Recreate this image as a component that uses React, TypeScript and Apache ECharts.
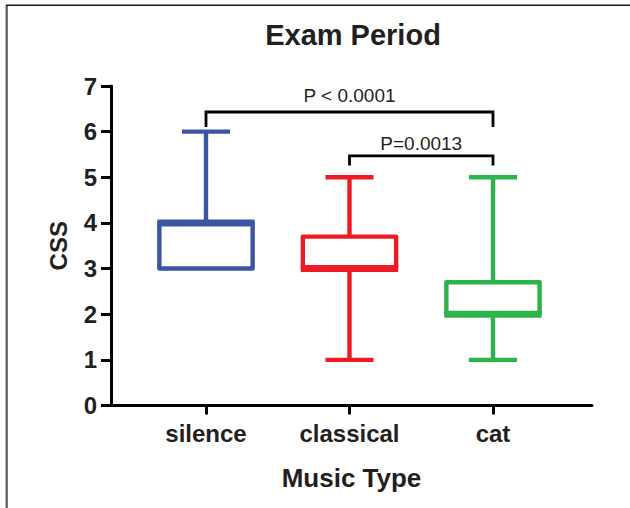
import React, { useEffect, useRef } from "react";
import * as echarts from "echarts";

const CATEGORIES = ["silence", "classical", "cat"];
// [min, q1, median, q3, max]
const SILENCE = [3, 3, 4, 4, 6];
const CLASSICAL = [1, 3, 3, 3.7, 5];
const CAT = [1, 2, 2, 2.7, 5];
const BOX_VALUES = [SILENCE, CLASSICAL, CAT];
const BOX_COLORS = ["#3a55a4", "#ed1c24", "#2cb34a"];
const Y_TICKS = [0, 1, 2, 3, 4, 5, 6, 7];
// significance brackets: [fromCategory, toCategory, bracketValue, dropToValue]
const BRACKET_FROM = [1, 2];
const BRACKET_TO = [3, 3];
const BRACKET_LEVEL = [6.43, 5.47];
const BRACKET_DROP = [6.1, 5.26];
const BRACKET_LABELS = ["P < 0.0001", "P=0.0013"];
const BRACKET_LABEL_GAP = [7, 3];

const FONT = "'Liberation Sans', Arial, Helvetica, sans-serif";
const INK = "#231f20";

export default function App() {
  const ref = useRef<HTMLDivElement>(null);
  useEffect(() => {
    if (!ref.current) return;
    const chart = echarts.init(ref.current, undefined, { renderer: "svg" });
    const boxData = BOX_VALUES.map((v, i) => [i + 1, ...v]);
    const bracketData = BRACKET_FROM.map((f, i) => [f, BRACKET_TO[i], BRACKET_LEVEL[i], BRACKET_DROP[i]]);
    chart.setOption({
      animation: false,
      backgroundColor: "#ffffff",
      title: {
        text: "Exam Period",
        left: 348,
        textAlign: "center",
        top: 15,
        textStyle: { fontFamily: FONT, fontSize: 29, fontWeight: "bold", color: INK },
      },
      graphic: [
        { type: "line", shape: { x1: 6.7, y1: 5, x2: 6.7, y2: 508 }, style: { stroke: "#555555", lineWidth: 2.2 } },
        { type: "line", shape: { x1: 6, y1: 5.3, x2: 630, y2: 5.3 }, style: { stroke: "#1a1a1a", lineWidth: 1.6 } },
      ],
      grid: { left: 111, right: 38, top: 86, bottom: 102.5, containLabel: false },
      xAxis: {
        type: "value",
        min: 0.338,
        max: 3.69,
        name: "Music Type",
        nameLocation: "middle",
        nameGap: 59,
        nameTextStyle: { fontFamily: FONT, fontSize: 26, fontWeight: "bold", color: INK },
        splitLine: { show: false },
        axisLine: { show: true, lineStyle: { color: "#000", width: 3 } },
        axisTick: { show: true, customValues: [1, 2, 3], length: 9, lineStyle: { color: "#000", width: 3 } },
        axisLabel: {
          customValues: [1, 2, 3],
          margin: 16,
          fontFamily: FONT,
          fontSize: 24,
          fontWeight: "bold",
          color: INK,
          formatter: (v: number) => CATEGORIES[Math.round(v) - 1] ?? "",
        },
      },
      yAxis: {
        type: "value",
        min: 0,
        max: 7,
        interval: 1,
        name: "CSS",
        nameLocation: "middle",
        nameGap: 41,
        nameRotate: 90,
        nameTextStyle: { fontFamily: FONT, fontSize: 24, fontWeight: "bold", color: INK },
        splitLine: { show: false },
        axisLine: { show: true, lineStyle: { color: "#000", width: 3 } },
        axisTick: { show: true, length: 10, lineStyle: { color: "#000", width: 3 } },
        axisLabel: {
          margin: 14,
          fontFamily: FONT,
          fontSize: 24,
          fontWeight: "bold",
          color: INK,
          formatter: (v: number) => (Y_TICKS.includes(v) ? String(v) : ""),
        },
      },
      series: [
        {
          type: "custom",
          data: boxData,
          renderItem: (params: any, api: any) => {
            const x = api.value(0);
            const lo = api.coord([x, api.value(1)]);
            const q1 = api.coord([x, api.value(2)]);
            const med = api.coord([x, api.value(3)]);
            const q3 = api.coord([x, api.value(4)]);
            const hi = api.coord([x, api.value(5)]);
            const unit = api.size([1, 0])[0];
            const bw = unit * 0.65;
            const cw = unit * 0.335;
            const cx = lo[0];
            const color = BOX_COLORS[params.dataIndex];
            const st = { stroke: color, lineWidth: 4.4, fill: null };
            const children: any[] = [
              { type: "line", shape: { x1: cx, y1: hi[1], x2: cx, y2: q3[1] }, style: st },
              { type: "line", shape: { x1: cx - cw / 2, y1: hi[1], x2: cx + cw / 2, y2: hi[1] }, style: st },
            ];
            if (lo[1] - q1[1] > 1) {
              children.push({ type: "line", shape: { x1: cx, y1: q1[1], x2: cx, y2: lo[1] }, style: st });
              children.push({ type: "line", shape: { x1: cx - cw / 2, y1: lo[1], x2: cx + cw / 2, y2: lo[1] }, style: st });
            }
            children.push({
              type: "rect",
              shape: { x: cx - bw / 2, y: q3[1], width: bw, height: q1[1] - q3[1] },
              style: { stroke: color, lineWidth: 4.4, fill: "#ffffff", lineJoin: "round" },
            });
            children.push({
              type: "line",
              shape: { x1: cx - bw / 2 - 2, y1: med[1], x2: cx + bw / 2 + 2, y2: med[1] },
              style: { stroke: color, lineWidth: 7 },
            });
            return { type: "group", children };
          },
          z: 3,
        },
        {
          type: "custom",
          data: bracketData,
          renderItem: (params: any, api: any) => {
            const a = api.coord([api.value(0), api.value(2)]);
            const b = api.coord([api.value(1), api.value(2)]);
            const dropA = api.coord([api.value(0), api.value(3)]);
            const st = { stroke: "#000", lineWidth: 2.8, fill: null, lineJoin: "miter" };
            return {
              type: "group",
              children: [
                {
                  type: "polyline",
                  shape: { points: [[a[0], dropA[1]], [a[0], a[1]], [b[0], a[1]], [b[0], dropA[1]]] },
                  style: st,
                },
                {
                  type: "text",
                  x: (a[0] + b[0]) / 2,
                  y: a[1] - BRACKET_LABEL_GAP[params.dataIndex],
                  style: {
                    text: BRACKET_LABELS[params.dataIndex],
                    fill: INK,
                    font: `19px ${FONT}`,
                    align: "center",
                    verticalAlign: "bottom",
                  },
                },
              ],
            };
          },
          z: 4,
        },
      ],
    });
    return () => chart.dispose();
  }, []);
  return <div ref={ref} style={{ position: "fixed", left: 0, top: 0, width: 630, height: 508 }} />;
}
